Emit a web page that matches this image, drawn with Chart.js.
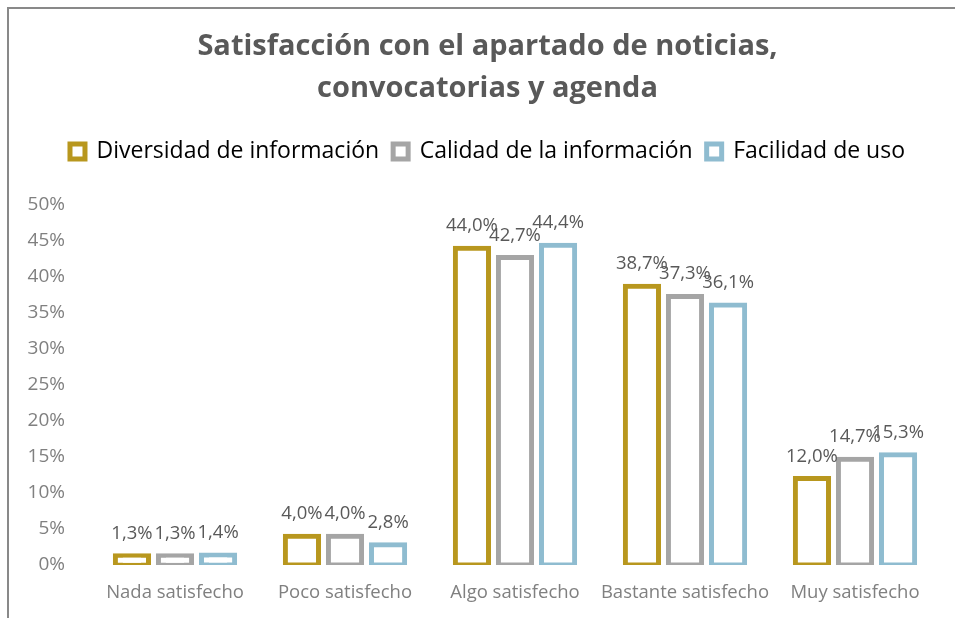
<!DOCTYPE html>
<html>
<head>
<meta charset="utf-8">
<script src="https://cdn.jsdelivr.net/npm/chart.js@4.4.1/dist/chart.umd.min.js"></script>
<style>
  html, body { margin: 0; padding: 0; background: #fff; }
  #wrap { position: relative; width: 955px; height: 618px; overflow: hidden; }
  #frame { position: absolute; left: 7px; top: 7px; width: 1000px; height: 700px; border: 2px solid #898989; box-sizing: border-box; pointer-events: none; }
  canvas { position: absolute; left: 0; top: 0; }
</style>
</head>
<body>
<div id="wrap">
  <canvas id="c" width="955" height="618"></canvas>
  <div id="frame"></div>
</div>
<script>
const categories = ["Nada satisfecho", "Poco satisfecho", "Algo satisfecho", "Bastante satisfecho", "Muy satisfecho"];
const seriesNames = ["Diversidad de información", "Calidad de la información", "Facilidad de uso"];
const diversidad = [1.3, 4.0, 44.0, 38.7, 12.0];
const calidad = [1.3, 4.0, 42.7, 37.3, 14.7];
const facilidad = [1.4, 2.8, 44.4, 36.1, 15.3];
const yTicks = [0, 5, 10, 15, 20, 25, 30, 35, 40, 45, 50];
const titleLines = ["Satisfacción con el apartado de noticias,", "convocatorias y agenda"];

const colors = ["#B8971E", "#A5A5A5", "#8FBCD0"];
const FONT = "'Open Sans', sans-serif";

const labelPlugin = {
  id: 'valueLabels',
  afterDatasetsDraw(chart) {
    const ctx = chart.ctx;
    ctx.save();
    ctx.font = "18.5px " + FONT;
    ctx.fillStyle = "#595959";
    ctx.textAlign = "center";
    ctx.textBaseline = "alphabetic";
    chart.data.datasets.forEach((ds, i) => {
      const meta = chart.getDatasetMeta(i);
      meta.data.forEach((bar, j) => {
        const v = ds.data[j];
        const txt = v.toFixed(1).replace('.', ',') + '%';
        ctx.fillText(txt, bar.x, bar.y - 17);
      });
    });
    ctx.restore();
  }
};

const datasets = [diversidad, calidad, facilidad].map((d, i) => ({
  label: seriesNames[i],
  data: d,
  backgroundColor: "#ffffff",
  borderColor: colors[i],
  borderWidth: 5,
  borderSkipped: false,
  inflateAmount: 2.5,
  categoryPercentage: 0.76,
  barPercentage: 0.77
}));

new Chart(document.getElementById('c'), {
  type: 'bar',
  data: { labels: categories, datasets },
  options: {
    responsive: false,
    animation: false,
    layout: { padding: { left: 20, right: 0, top: 0, bottom: 0 } },
    plugins: {
      title: {
        display: true,
        text: titleLines,
        color: "#595959",
        weight: 2000,
        font: { family: FONT, size: 29, weight: 'bold', lineHeight: 42 / 29 },
        padding: { top: 26, bottom: 16 }
      },
      subtitle: {
        display: true,
        text: '',
        weight: 1000,
        font: { family: FONT, size: 10, lineHeight: 1 },
        padding: { top: 10, bottom: 12 }
      },
      legend: {
        display: true,
        position: 'top',
        weight: 1500,
        labels: {
          color: "#000000",
          font: { family: FONT, size: 23 },
          boxWidth: 15,
          boxHeight: 15,
          padding: 14
        }
      },
      tooltip: { enabled: false }
    },
    scales: {
      x: {
        grid: { display: false, drawTicks: false },
        border: { display: false },
        ticks: { color: "#808080", font: { family: FONT, size: 18.5 }, padding: 17, maxRotation: 0, minRotation: 0, autoSkip: false },
        afterFit(s) { s.height = 53; }
      },
      y: {
        min: 0, max: 50,
        afterBuildTicks(s) { s.ticks = yTicks.map(v => ({ value: v })); },
        grid: { display: false, drawTicks: false },
        border: { display: false },
        ticks: { color: "#808080", font: { family: FONT, size: 19 }, padding: 25, callback: v => v + '%' },
        afterFit(s) { s.width = 70; }
      },
      yRight: {
        position: 'right',
        display: true,
        min: 0, max: 50,
        grid: { display: false, drawTicks: false },
        border: { display: false },
        ticks: { display: false },
        afterFit(s) { s.width = 15; }
      }
    }
  },
  plugins: [labelPlugin]
});
</script>
</body>
</html>
